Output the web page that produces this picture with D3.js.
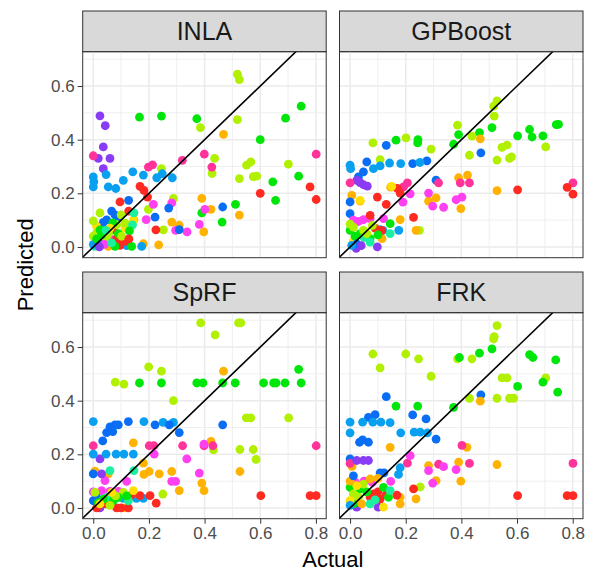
<!DOCTYPE html>
<html>
<head>
<meta charset="utf-8">
<script src="https://cdn.jsdelivr.net/npm/d3@7"></script>
<style>
  body { margin: 0; background: #fff; }
  svg { font-family: "Liberation Sans", Arial, sans-serif; }
</style>
</head>
<body>
<div id="chart"></div>
<script>
// group codes and their colours
const groups = ["r", "o", "y", "l", "g", "t", "s", "b", "p", "m", "k"];
const groupColors = ["#FF2A22", "#FFB300", "#FFE000", "#B0F000", "#00E60A", "#1AF0A0", "#0AA0F0", "#0A6EF5", "#8A3CF5", "#FF40F0", "#FF3399"];

const facets = ["INLA", "GPBoost", "SpRF", "FRK"];
const xTicks = [0, 0.2, 0.4, 0.6, 0.8];
const yTicks = [0, 0.2, 0.4, 0.6];

// [actual, predicted, group]
const inla = [
  [0.518,0.644,"l"],[0.525,0.624,"l"],[0.747,0.525,"g"],
  [0.024,0.489,"p"],[0.043,0.452,"p"],[0.036,0.373,"p"],[0.060,0.330,"p"],[0.036,0.292,"p"],[0.018,0.330,"p"],
  [0.166,0.484,"g"],[0.245,0.488,"g"],[0.372,0.478,"g"],[0.691,0.480,"g"],[0.600,0.400,"g"],[0.738,0.264,"g"],
  [0.645,0.243,"g"],[0.655,0.174,"g"],[0.511,0.159,"g"],[0.463,0.093,"g"],[0.390,0.127,"g"],
  [0.385,0.445,"l"],[0.518,0.475,"l"],[0.436,0.330,"l"],[0.427,0.274,"l"],[0.551,0.305,"l"],[0.566,0.317,"l"],
  [0.525,0.255,"l"],[0.575,0.262,"l"],[0.587,0.264,"l"],[0.701,0.309,"l"],[0.245,0.292,"l"],[0.288,0.181,"l"],
  [0.198,0.140,"l"],[0.252,0.064,"l"],
  [0.468,0.420,"o"],[0.390,0.181,"o"],[0.423,0.140,"o"],[0.525,0.119,"o"],[0.397,0.056,"o"],[0.282,0.093,"o"],
  [0.309,0.081,"o"],[0.235,0.008,"o"],[0.180,0.012,"o"],[0.054,0.002,"o"],[0.146,0.101,"o"],
  [0.000,0.340,"k"],[0.399,0.346,"k"],[0.426,0.298,"k"],[0.320,0.323,"k"],[0.198,0.298,"k"],[0.213,0.306,"k"],[0.801,0.346,"k"],
  [0.216,0.159,"m"],[0.282,0.164,"m"],[0.190,0.102,"m"],[0.296,0.062,"m"],[0.337,0.056,"m"],[0.381,0.084,"m"],
  [0.401,0.140,"m"],[0.060,0.031,"m"],
  [0.000,0.261,"s"],[0.002,0.243,"s"],[0.000,0.224,"s"],[0.046,0.270,"s"],[0.054,0.224,"s"],[0.081,0.218,"s"],
  [0.108,0.248,"s"],[0.142,0.280,"s"],[0.180,0.268,"s"],[0.228,0.258,"s"],[0.248,0.273,"s"],[0.284,0.258,"s"],
  [0.174,0.002,"s"],[0.120,0.005,"s"],
  [0.127,0.174,"b"],[0.066,0.134,"b"],[0.048,0.101,"b"],[0.078,0.120,"b"],[0.222,0.111,"b"],[0.271,0.145,"b"],
  [0.309,0.065,"b"],[0.465,0.149,"b"],[0.088,0.107,"b"],[0.036,0.092,"b"],
  [0.168,0.226,"r"],[0.182,0.211,"r"],[0.195,0.186,"r"],[0.096,0.168,"r"],[0.127,0.134,"r"],[0.225,0.064,"r"],
  [0.600,0.200,"r"],[0.779,0.224,"r"],[0.801,0.177,"r"],[0.072,0.064,"r"],[0.084,0.031,"r"],[0.108,0.027,"r"],
  [0.120,0.022,"r"],[0.096,0.006,"r"],
  [0.144,0.099,"y"],[0.114,0.070,"y"],[0.012,0.077,"y"],
  [0.000,0.097,"l"],[0.024,0.127,"l"],[0.012,0.052,"l"],[0.048,0.027,"l"],[0.114,0.089,"l"],[0.084,0.083,"l"],
  [0.024,0.064,"g"],[0.078,0.002,"g"],[0.138,0.002,"g"],
  [0.146,0.127,"t"],[0.141,0.082,"t"],[0.006,0.002,"t"],
  [0.000,0.010,"s"],[0.018,0.020,"b"],[0.030,0.045,"g"],[0.040,0.010,"m"],[0.055,0.050,"l"],[0.066,0.015,"t"],
  [0.090,0.050,"g"],[0.102,0.040,"l"],[0.130,0.060,"g"],[0.000,0.040,"l"],[0.012,0.030,"g"],[0.070,0.090,"g"],
  [0.100,0.120,"l"],[0.060,0.070,"y"],[0.128,0.030,"r"],[0.046,0.062,"t"],[0.022,0.000,"p"]
];

const gpboost = [
  [0.528,0.545,"l"],[0.516,0.525,"l"],[0.518,0.488,"l"],
  [0.510,0.445,"g"],[0.465,0.426,"g"],[0.390,0.419,"g"],[0.372,0.383,"g"],[0.741,0.456,"g"],[0.749,0.457,"g"],
  [0.645,0.438,"g"],[0.654,0.410,"g"],[0.693,0.414,"g"],[0.602,0.414,"g"],[0.165,0.398,"g"],[0.243,0.388,"g"],[0.244,0.400,"g"],
  [0.386,0.454,"l"],[0.438,0.413,"l"],[0.429,0.342,"l"],[0.546,0.371,"l"],[0.564,0.380,"l"],[0.580,0.336,"l"],
  [0.573,0.330,"l"],[0.528,0.324,"l"],[0.703,0.373,"l"],[0.082,0.388,"l"],[0.201,0.407,"l"],[0.291,0.365,"l"],
  [0.108,0.326,"l"],[0.249,0.062,"l"],
  [0.468,0.403,"o"],[0.528,0.210,"o"],[0.390,0.258,"o"],[0.422,0.268,"o"],[0.398,0.143,"o"],[0.282,0.171,"o"],
  [0.309,0.183,"o"],[0.146,0.223,"o"],[0.180,0.102,"o"],[0.237,0.062,"o"],[0.115,0.031,"o"],[0.036,0.171,"o"],[0.006,0.192,"o"],
  [0.130,0.379,"b"],[0.470,0.351,"b"],[0.309,0.249,"b"],[0.225,0.311,"b"],[0.276,0.321,"b"],[0.060,0.317,"b"],
  [0.048,0.280,"b"],[0.030,0.261,"b"],[0.000,0.168,"b"],[0.000,0.124,"b"],
  [0.000,0.305,"s"],[0.002,0.292,"s"],[0.084,0.292,"s"],[0.108,0.302,"s"],[0.142,0.313,"s"],[0.182,0.311,"s"],
  [0.251,0.315,"s"],[0.118,0.062,"s"],[0.175,0.062,"s"],[0.108,0.065,"s"],
  [0.024,0.248,"p"],[0.048,0.232,"p"],[0.062,0.227,"p"],[0.036,0.240,"p"],[0.098,0.000,"p"],[0.022,-0.005,"p"],
  [0.000,0.239,"k"],[0.206,0.239,"k"],[0.318,0.239,"k"],[0.396,0.239,"k"],[0.429,0.239,"k"],[0.801,0.239,"k"],[0.192,0.224,"k"],
  [0.282,0.201,"m"],[0.190,0.167,"m"],[0.216,0.198,"m"],[0.297,0.152,"m"],[0.336,0.148,"m"],[0.381,0.176,"m"],
  [0.402,0.186,"m"],[0.012,0.100,"m"],[0.048,0.102,"m"],[0.072,0.106,"m"],[0.120,0.106,"m"],[0.030,0.095,"m"],
  [0.170,0.218,"r"],[0.180,0.201,"r"],[0.098,0.186,"r"],[0.130,0.159,"r"],[0.228,0.110,"r"],[0.602,0.213,"r"],
  [0.780,0.222,"r"],[0.801,0.197,"r"],[0.072,0.118,"r"],[0.114,0.062,"r"],[0.090,0.070,"r"],
  [0.150,0.226,"y"],[0.036,0.174,"y"],[0.012,0.020,"y"],
  [0.000,0.062,"g"],[0.036,0.050,"g"],[0.072,0.031,"g"],[0.144,0.087,"g"],[0.100,0.045,"g"],[0.018,0.040,"g"],
  [0.144,0.050,"t"],[0.072,0.018,"t"],[0.050,0.035,"t"],
  [0.012,0.074,"l"],[0.048,0.062,"l"],[0.000,0.085,"l"],[0.080,0.080,"l"],[0.060,0.050,"l"],
  [0.024,0.012,"b"],[0.006,0.006,"s"],[0.040,0.005,"p"]
];

const sprf = [
  [0.386,0.690,"l"],[0.522,0.690,"l"],[0.530,0.690,"l"],[0.438,0.645,"l"],[0.199,0.526,"l"],[0.245,0.510,"l"],
  [0.079,0.469,"l"],[0.110,0.462,"l"],[0.288,0.400,"l"],[0.550,0.336,"l"],[0.566,0.336,"l"],[0.702,0.336,"l"],
  [0.527,0.218,"l"],[0.575,0.218,"l"],[0.585,0.181,"l"],[0.250,0.052,"l"],[0.432,0.217,"l"],
  [0.166,0.466,"g"],[0.245,0.466,"g"],[0.372,0.466,"g"],[0.394,0.466,"g"],[0.465,0.466,"g"],[0.510,0.466,"g"],
  [0.612,0.466,"g"],[0.648,0.466,"g"],[0.657,0.466,"g"],[0.689,0.466,"g"],[0.747,0.466,"g"],[0.738,0.517,"g"],
  [0.468,0.510,"o"],[0.423,0.248,"o"],[0.527,0.136,"o"],[0.390,0.093,"o"],[0.398,0.065,"o"],[0.309,0.065,"o"],
  [0.282,0.136,"o"],[0.237,0.127,"o"],[0.201,0.136,"o"],[0.182,0.125,"o"],[0.144,0.243,"o"],[0.180,0.167,"o"],
  [0.006,0.137,"o"],[0.054,0.127,"o"],[0.117,0.000,"o"],
  [0.000,0.232,"k"],[0.201,0.232,"k"],[0.218,0.232,"k"],[0.321,0.232,"k"],[0.398,0.232,"k"],[0.430,0.232,"k"],[0.801,0.232,"k"],
  [0.219,0.201,"m"],[0.336,0.183,"m"],[0.381,0.130,"m"],[0.282,0.099,"m"],[0.296,0.099,"m"],[0.120,0.099,"m"],
  [0.042,0.102,"m"],[0.398,0.238,"m"],[0.000,0.060,"m"],[0.030,0.065,"m"],[0.060,0.062,"m"],[0.090,0.062,"m"],
  [0.024,0.183,"p"],[0.024,0.000,"p"],[0.030,0.127,"p"],
  [0.000,0.322,"s"],[0.000,0.201,"s"],[0.046,0.201,"s"],[0.082,0.201,"s"],[0.110,0.201,"s"],[0.144,0.201,"s"],
  [0.182,0.322,"s"],[0.251,0.319,"s"],[0.288,0.319,"s"],[0.155,0.036,"s"],[0.180,0.036,"s"],[0.108,0.036,"s"],
  [0.126,0.322,"b"],[0.060,0.302,"b"],[0.078,0.310,"b"],[0.048,0.281,"b"],[0.070,0.285,"b"],[0.034,0.250,"b"],
  [0.222,0.310,"b"],[0.273,0.310,"b"],[0.309,0.281,"b"],[0.465,0.310,"b"],[0.090,0.310,"b"],[0.000,0.127,"b"],[0.000,0.027,"b"],
  [0.012,0.040,"b"],
  [0.168,0.046,"r"],[0.204,0.046,"r"],[0.134,0.046,"r"],[0.226,0.018,"r"],[0.602,0.046,"r"],[0.779,0.046,"r"],
  [0.801,0.046,"r"],[0.084,0.000,"r"],[0.126,0.000,"r"],[0.046,0.015,"r"],[0.012,0.000,"r"],[0.100,0.000,"r"],
  [0.146,0.139,"t"],[0.060,0.139,"t"],[0.126,0.027,"t"],[0.050,0.040,"t"],
  [0.006,0.058,"l"],[0.072,0.027,"g"],[0.108,0.058,"l"],[0.036,0.033,"g"],[0.090,0.039,"g"],[0.120,0.045,"g"],
  [0.018,0.020,"g"],[0.060,0.010,"l"],[0.080,0.045,"l"],
  [0.066,0.058,"y"],[0.024,0.015,"y"],[0.144,0.065,"y"]
];

const frk = [
  [0.528,0.680,"l"],[0.518,0.639,"l"],[0.516,0.630,"l"],[0.082,0.574,"l"],[0.200,0.574,"l"],[0.246,0.556,"l"],
  [0.108,0.522,"l"],[0.291,0.491,"l"],[0.386,0.556,"l"],[0.438,0.556,"l"],[0.546,0.485,"l"],[0.564,0.485,"l"],
  [0.703,0.485,"l"],[0.528,0.409,"l"],[0.573,0.409,"l"],[0.588,0.409,"l"],[0.429,0.409,"l"],[0.252,0.079,"l"],
  [0.510,0.593,"g"],[0.465,0.577,"g"],[0.393,0.561,"g"],[0.645,0.572,"g"],[0.657,0.561,"g"],[0.739,0.552,"g"],
  [0.693,0.469,"g"],[0.602,0.453,"g"],[0.746,0.432,"g"],[0.372,0.375,"g"],[0.165,0.380,"g"],[0.243,0.380,"g"],
  [0.130,0.415,"b"],[0.470,0.422,"b"],[0.225,0.347,"b"],[0.273,0.332,"b"],[0.309,0.257,"b"],[0.090,0.348,"b"],
  [0.066,0.338,"b"],[0.045,0.254,"b"],[0.034,0.245,"b"],[0.066,0.245,"b"],[0.000,0.183,"b"],[0.108,0.131,"b"],[0.122,0.131,"b"],
  [0.000,0.320,"s"],[0.000,0.280,"s"],[0.045,0.320,"s"],[0.082,0.320,"s"],[0.111,0.320,"s"],[0.144,0.318,"s"],
  [0.182,0.280,"s"],[0.230,0.283,"s"],[0.252,0.283,"s"],[0.278,0.280,"s"],[0.174,0.125,"s"],[0.180,0.150,"s"],
  [0.468,0.398,"o"],[0.144,0.226,"o"],[0.420,0.226,"o"],[0.528,0.162,"o"],[0.390,0.171,"o"],[0.282,0.158,"o"],
  [0.309,0.102,"o"],[0.398,0.100,"o"],[0.180,0.040,"o"],[0.237,0.034,"o"],[0.180,0.015,"o"],[0.007,0.155,"o"],
  [0.801,0.166,"k"],[0.429,0.166,"k"],[0.318,0.163,"k"],[0.402,0.233,"k"],[0.206,0.167,"k"],[0.000,0.166,"k"],
  [0.282,0.139,"m"],[0.336,0.154,"m"],[0.381,0.143,"m"],[0.297,0.093,"m"],[0.216,0.195,"m"],[0.146,0.099,"m"],
  [0.020,0.095,"m"],[0.050,0.100,"m"],[0.080,0.095,"m"],
  [0.024,0.177,"p"],[0.048,0.177,"p"],[0.066,0.177,"p"],[0.024,0.003,"p"],[0.101,0.003,"p"],
  [0.228,0.071,"r"],[0.602,0.046,"r"],[0.780,0.046,"r"],[0.801,0.046,"r"],[0.168,0.048,"r"],[0.108,0.033,"r"],
  [0.072,0.040,"r"],[0.084,0.052,"r"],[0.130,0.050,"r"],[0.100,0.060,"r"],
  [0.000,0.077,"g"],[0.036,0.071,"g"],[0.120,0.077,"g"],[0.138,0.040,"g"],[0.012,0.015,"g"],[0.060,0.060,"g"],
  [0.144,0.065,"t"],[0.072,0.015,"t"],[0.090,0.030,"t"],
  [0.012,0.052,"l"],[0.048,0.089,"l"],[0.030,0.040,"l"],
  [0.024,0.083,"y"],[0.000,0.027,"y"],[0.120,0.003,"y"],
  [0.072,0.108,"o"],[0.042,0.015,"o"],[0.000,0.100,"o"],[0.100,0.110,"o"],
  [0.012,0.120,"b"],[0.000,0.010,"s"]
];

const panelData = [inla, gpboost, sprf, frk];

const width = 589, height = 573;
const panelW = 243.5, panelH = 206, stripH = 40.7;
const colX = [82.7, 339.5];
const rowY = [11, 272];

const color = d3.scaleOrdinal().domain(groups).range(groupColors);
const x = d3.scaleLinear().domain([-0.038, 0.837]).range([0, panelW]);
const y = d3.scaleLinear().domain([-0.04, 0.728]).range([panelH, 0]);

const svg = d3.select("#chart").append("svg")
  .attr("width", width)
  .attr("height", height);

facets.forEach((name, i) => {
  const col = i % 2, row = Math.floor(i / 2);
  const g = svg.append("g")
    .attr("transform", `translate(${colX[col]},${rowY[row]})`);

  // strip
  g.append("rect")
    .attr("width", panelW).attr("height", stripH)
    .attr("fill", "#D9D9D9").attr("stroke", "#333").attr("stroke-width", 1);
  g.append("text")
    .attr("x", panelW / 2).attr("y", stripH / 2 + 9)
    .attr("text-anchor", "middle")
    .attr("font-size", 25).attr("fill", "#1A1A1A")
    .text(name);

  const p = g.append("g").attr("transform", `translate(0,${stripH})`);
  p.append("defs").append("clipPath").attr("id", "clip" + i)
    .append("rect").attr("width", panelW).attr("height", panelH);

  // grid: minor then major
  const minor = [0.1, 0.3, 0.5, 0.7];
  p.selectAll(".vminor").data(minor).join("line")
    .attr("x1", d => x(d)).attr("x2", d => x(d)).attr("y1", 0).attr("y2", panelH)
    .attr("stroke", "#EBEBEB").attr("stroke-width", 0.8);
  p.selectAll(".hminor").data(minor).join("line")
    .attr("x1", 0).attr("x2", panelW).attr("y1", d => y(d)).attr("y2", d => y(d))
    .attr("stroke", "#EBEBEB").attr("stroke-width", 0.8);
  p.selectAll(".vmajor").data(xTicks).join("line")
    .attr("x1", d => x(d)).attr("x2", d => x(d)).attr("y1", 0).attr("y2", panelH)
    .attr("stroke", "#EBEBEB").attr("stroke-width", 1.5);
  p.selectAll(".hmajor").data(yTicks).join("line")
    .attr("x1", 0).attr("x2", panelW).attr("y1", d => y(d)).attr("y2", d => y(d))
    .attr("stroke", "#EBEBEB").attr("stroke-width", 1.5);

  const clipped = p.append("g").attr("clip-path", `url(#clip${i})`);
  clipped.selectAll("circle").data(panelData[i]).join("circle")
    .attr("cx", d => x(d[0]))
    .attr("cy", d => y(d[1]))
    .attr("r", 4.4)
    .attr("fill", d => color(d[2]));

  clipped.append("line")
    .attr("x1", x(-0.05)).attr("y1", y(-0.05))
    .attr("x2", x(0.9)).attr("y2", y(0.9))
    .attr("stroke", "#000").attr("stroke-width", 1.6);

  p.append("rect")
    .attr("width", panelW).attr("height", panelH)
    .attr("fill", "none").attr("stroke", "#333").attr("stroke-width", 1);

  // axes
  if (col === 0) {
    const ya = p.append("g").call(d3.axisLeft(y).tickValues(yTicks).tickFormat(d3.format(".1f")).tickSize(5).tickPadding(3));
    ya.select(".domain").remove();
    ya.selectAll("line").attr("stroke", "#333").attr("stroke-width", 1);
    ya.selectAll("text").attr("font-size", 17).attr("fill", "#4D4D4D").attr("font-family", "Liberation Sans, Arial, sans-serif");
  }
  if (row === 1) {
    const xa = p.append("g").attr("transform", `translate(0,${panelH})`)
      .call(d3.axisBottom(x).tickValues(xTicks).tickFormat(d3.format(".1f")).tickSize(5).tickPadding(3));
    xa.select(".domain").remove();
    xa.selectAll("line").attr("stroke", "#333").attr("stroke-width", 1);
    xa.selectAll("text").attr("font-size", 17).attr("fill", "#4D4D4D").attr("font-family", "Liberation Sans, Arial, sans-serif");
  }
});

// axis titles
svg.append("text")
  .attr("x", (colX[0] + colX[1] + panelW) / 2).attr("y", 567)
  .attr("text-anchor", "middle").attr("font-size", 22).attr("fill", "#000")
  .text("Actual");
svg.append("text")
  .attr("transform", `translate(33,${(rowY[0] + rowY[1] + stripH + panelH) / 2}) rotate(-90)`)
  .attr("text-anchor", "middle").attr("font-size", 22).attr("fill", "#000")
  .text("Predicted");
</script>
</body>
</html>
